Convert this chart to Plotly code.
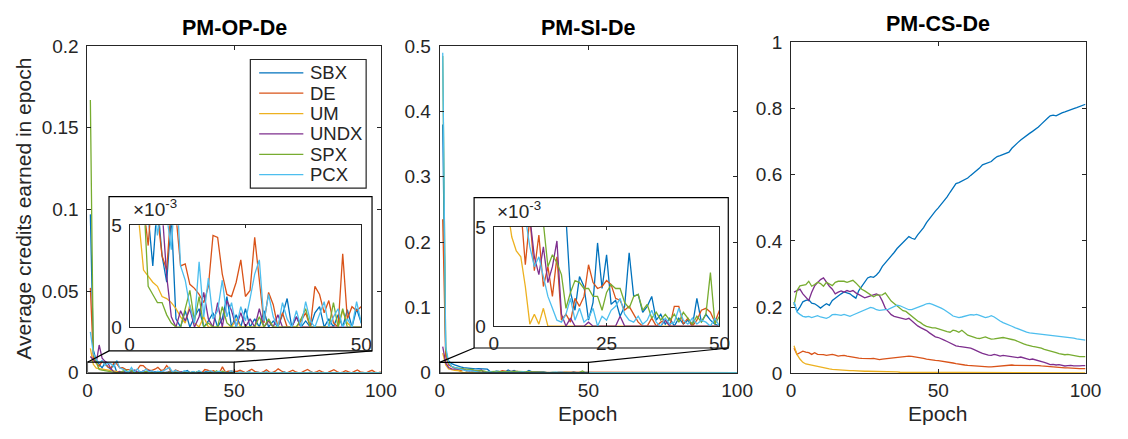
import plotly.graph_objects as go

W, H = 1128, 439

# ---------------- data ----------------
epochs = list(range(1, 101))
names = ["SBX", "DE", "UM", "UNDX", "SPX", "PCX"]
colors = ["#0072BD", "#D95319", "#EDB120", "#7E2F8E", "#77AC30", "#4DBEEE"]

# PM-OP-De : average credits, in units of 1e-3
op_sbx = [97, 14, 7.5, 5.5, 3.0, 6.2, 3.5, 2.2, 5.5, 0.4,
          0, 0.8, 0, 0.5, 0.9, 0, 0.3, 0.7, 0, 0.4,
          1.5, 0, 0.6, 0, 0.9, 0, 0.4, 0, 0.8, 0,
          0.3, 0, 0.6, 1.4, 0, 0.5, 0, 0.3, 0, 0.7,
          1.0, 0, 0.4, 0, 0.6, 0, 0.85, 0, 0.9, 0.2,
          0, 0.3, 0, 0, 0.5, 0, 0.2, 0, 0, 0.4,
          0, 0, 0.3, 0, 0, 0, 0.5, 0, 0, 0.2,
          0, 0, 0, 0.4, 0, 0, 0.3, 0, 0, 0,
          0.2, 0, 0, 0.4, 0, 0, 0, 0.3, 0, 0,
          0, 0.2, 0, 0, 0.3, 0, 0, 0, 0.2, 0]
op_de = [52, 9, 6, 4, 7, 5.5, 3.5, 2.8, 6, 5.5,
         3.0, 3.1, 2.1, 1.9, 1.6, 1.2, 2.0, 4.5, 4.4, 2.6,
         1.6, 1.5, 2.2, 3.3, 1.5, 1.8, 4.4, 2.3, 0.2, 1.7,
         1.1, 0, 0.7, 0, 0, 0, 0.3, 0.7, 0, 2.0,
         1.6, 0.7, 1.3, 0.2, 0, 3.6, 0.4, 1.0, 0.8, 1.0,
         0.8, 1.5, 0.5, 0, 1.2, 2.2, 0.9, 0.3, 0, 0.6,
         1.8, 0.4, 0, 1.0, 2.4, 1.2, 0.2, 0, 0.7, 1.6,
         0.5, 0, 0.3, 1.1, 2.0, 0.9, 0, 0.5, 1.4, 0.6,
         0, 0.2, 1.0, 1.9, 0.8, 0, 0.4, 1.3, 0.5, 0,
         0.9, 1.7, 0.6, 0.2, 0, 0.8, 1.5, 0.4, 0, 0.6]
op_um = [15, 5.2, 2.8, 2.5, 2.2, 2.0, 1.5, 1.4, 1.2, 0.9,
         0.5, 0.2, 1.1, 0.2, 0, 0.5, 0, 0, 0, 0,
         0, 0, 0.4, 0, 0, 0, 0, 0, 0, 0.3,
         0, 0, 0, 0, 0, 0, 0, 0, 0, 0,
         0, 0, 0, 0, 0, 0.8, 0.2, 0, 0, 0,
         0, 0, 0, 0, 0.3, 0, 0, 0, 0, 0,
         0, 0, 0, 0, 0, 0, 0, 0.2, 0, 0,
         0, 0, 0, 0, 0, 0, 0, 0, 0, 0,
         0, 0.3, 0, 0, 0, 0, 0, 0, 0, 0,
         0, 0, 0, 0, 0, 0, 0.2, 0, 0, 0]
op_undx = [10, 8, 6, 17, 9, 7, 5.8, 2.5, 0.5, 0,
           0.8, 0.3, 0.9, 0, 0.5, 1.7, 0.4, 0, 1.2, 0,
           1.3, 0.8, 0, 0.7, 0, 0.4, 0, 0.9, 0, 0.3,
           0, 0.6, 0, 0, 0, 0.5, 0, 0, 0, 0,
           0, 0, 0, 0, 0, 0, 0, 0, 0, 0,
           0, 0, 0.3, 0, 0, 0, 0, 0, 0, 0,
           0, 0, 0, 0, 0, 0.2, 0, 0, 0, 0,
           0, 0, 0, 0, 0, 0, 0, 0, 0.3, 0,
           0, 0, 0, 0, 0, 0, 0, 0, 0, 0,
           0, 0, 0, 0, 0.2, 0, 0, 0, 0, 0]
op_spx = [167, 12, 6.5, 2.0, 1.6, 1.2, 1.2, 0.6, 0.2, 0,
          0, 0.9, 1.8, 0.3, 1.5, 0, 0.2, 0, 0, 1.0,
          0.2, 0, 0, 0, 0, 0, 0, 0.5, 0, 0.4,
          0, 0, 0, 0, 0, 0, 0.4, 0.9, 0, 0,
          0, 0, 0, 1.2, 0, 0.9, 0, 0, 0, 0,
          0, 0, 0, 0.2, 0, 0, 0, 0, 0, 0,
          0, 0, 0, 0, 0, 0, 0, 0, 0.3, 0,
          0, 0, 0, 0, 0, 0, 0, 0, 0, 0,
          0, 0, 0, 0, 0, 0.2, 0, 0, 0, 0,
          0, 0, 0, 0, 0, 0, 0, 0, 0, 0]
op_pcx = [25, 12, 8, 6, 7.5, 4.5, 6.0, 5.5, 3.8, 7.5,
          3.0, 2.3, 1.0, 0.2, 3.2, 0.5, 2.4, 0.4, 0.8, 2.3,
          0.5, 1.2, 0, 1.0, 0.3, 1.4, 2.6, 3.3, 0.3, 1.6,
          0.5, 0, 1.2, 0.4, 0, 0.8, 0, 1.25, 0.3, 0,
          0.6, 1.25, 0, 0.5, 0.9, 0, 0.4, 0, 1.25, 0.2,
          0, 0.4, 0, 0, 0.6, 0, 0, 0.3, 0, 0,
          0.5, 0, 0, 0, 0.3, 0, 0, 0, 0.4, 0,
          0, 0, 0.3, 0, 0, 0.5, 0, 0, 0, 0.2,
          0, 0, 0.4, 0, 0, 0, 0.3, 0, 0, 0,
          0.2, 0, 0, 0.3, 0, 0, 0, 0.2, 0, 0]

# PM-SI-De : average credits, in units of 1e-3
si_sbx = [380, 30, 18, 14, 12, 10, 9, 8, 7.5, 6.5,
          7, 6, 6.5, 5.8, 6.2, 5.5, 1.7, 0.8, 2.5, 2.0,
          0.3, 1.2, 4.2, 1.9, 3.6, 1.1, 1.3, 0.5, 1.0, 3.7,
          1.5, 1.6, 0.7, 1.0, 1.5, 0.3, 0.6, 0.1, 0.4, 0,
          0.4, 0.1, 0.3, 0, 1.4, 0.2, 0.6, 0.3, 0.1, 0,
          0.2, 0, 0, 0.3, 0, 0, 0, 0.2, 0, 0,
          0, 0.3, 0, 0, 0, 0, 0.2, 0, 0, 0,
          0, 0, 0.3, 0, 0, 0, 0, 0, 0.2, 0,
          0, 0, 0, 0, 0.3, 0, 0, 0, 0, 0,
          0.2, 0, 0, 0, 0, 0, 0.3, 0, 0, 0]
si_de = [235, 25, 12, 9, 7, 6, 3.1, 5.5, 2.8, 4.6,
         2.0, 3.0, 1.5, 3.5, 0.3, 0.6, 0.2, 1.4, 1.0, 1.5,
         3.1, 2.2, 1.9, 2.0, 2.3, 2.1, 1.4, 1.3, 0.8, 1.0,
         0.6, 0.2, 0, 0, 0.4, 0, 0.2, 0.3, 0, 1.0,
         1.0, 0.1, 0.4, 0, 0.3, 0.8, 0.9, 0.7, 0.2, 0.8,
         0.3, 0, 0, 0.2, 0, 0.4, 0, 0, 0.2, 0,
         0, 0.3, 0, 0, 0, 0.2, 0, 0, 0.4, 0,
         0, 0, 0.2, 0, 0, 0.3, 0, 0, 0, 0.2,
         0, 0, 0.3, 0, 0, 0, 0.2, 0, 0, 0.3,
         0, 0, 0, 0.2, 0, 0, 0, 0.3, 0, 0]
si_um = [30, 12, 6, 4.5, 3.8, 3.5, 2.0, 0.1, 0.6, 0.1,
         0.9, 0, 0, 0, 0, 0, 0, 0, 0, 0,
         0, 0, 0, 0, 0, 0, 0, 0, 0, 0,
         0, 0, 0, 0, 0, 0, 0, 0, 0, 0,
         0, 0, 0, 0, 0, 0, 0, 0, 0, 0,
         0, 0, 0, 0, 0, 0, 0, 0, 0, 0,
         0, 0, 0, 0, 0, 0, 0, 0, 0, 0,
         0, 0, 0, 0, 0, 0, 0, 0, 0, 0,
         0, 0, 0, 0, 0, 0, 0, 0, 0, 0,
         0, 0, 0, 0, 0, 0, 0, 0, 0, 0]
si_undx = [40, 15, 8, 6, 5.5, 5.2, 6, 5.5, 3.5, 2.6,
           4.0, 2.2, 3.0, 4.3, 0.6, 0, 0.4, 0, 0, 0,
           0.2, 0, 0, 0, 0, 0, 0, 0.5, 0, 0,
           0, 0, 0, 0, 0, 0, 0, 0.3, 0, 0,
           0, 0, 0, 0, 0, 0, 0, 0, 0, 0,
           0, 0, 0, 0, 0, 0, 0, 0, 0, 0,
           0, 0, 0, 0, 0, 0, 0, 0, 0, 0,
           0, 0, 0, 0, 0, 0, 0, 0, 0, 0,
           0, 0, 0, 0, 0, 0, 0, 0, 0, 0,
           0, 0, 0, 0, 0, 0, 0, 0, 0, 0]
si_spx = [485, 35, 15, 10, 8, 7, 6.5, 6, 5.5, 5.8,
          5.2, 3.0, 3.6, 3.2, 2.6, 0.9, 1.7, 2.3, 2.2, 1.9,
          1.9, 1.5, 1.5, 0.8, 1.7, 2.1, 1.9, 1.9, 1.2, 0.9,
          1.5, 1.6, 0.8, 1.1, 0.4, 0.7, 0.3, 0.6, 0.3, 0.6,
          0.2, 0.7, 0.4, 0.1, 0.5, 0.2, 0.6, 2.7, 0.1, 0.5,
          0, 0.2, 0, 0, 0.3, 0, 0, 0, 0.2, 0,
          0, 0, 0.3, 0, 0, 0, 0, 0.2, 0, 0,
          0.3, 0, 0, 0, 0, 0, 0.2, 0, 0, 0,
          0, 0.3, 0, 0, 0, 0, 0, 0, 0.2, 0,
          0, 0, 0, 0.3, 0, 0, 0, 0, 0, 0.2]
si_pcx = [490, 40, 16, 10, 8, 6.5, 5.5, 4.0, 3.0, 3.5,
          2.5, 1.5, 0.9, 0.3, 0.2, 0.6, 1.4, 0.3, 0.9, 0.2,
          0.4, 0.9, 0, 0.5, 0.3, 0.8, 1.0, 1.4, 0.6, 0.3,
          0.2, 0.5, 0.1, 0.3, 0.8, 0.2, 0, 0.4, 0.1, 0.2,
          0.9, 0.3, 0.1, 0.4, 0.1, 0.3, 0.2, 0, 0.4, 0,
          0, 0.2, 0, 0, 0, 0.3, 0, 0, 0, 0,
          0.2, 0, 0, 0, 0.3, 0, 0, 0, 0, 0.2,
          0, 0, 0, 0, 0.3, 0, 0, 0, 0, 0,
          0.2, 0, 0, 0, 0, 0.3, 0, 0, 0, 0,
          0, 0.2, 0, 0, 0, 0, 0, 0.3, 0, 0]

# PM-CS-De : average credits
cs_sbx = [.215, .187, .200, .216, .220, .222, .212, .210, .204, .197,
          .204, .210, .205, .220, .227, .235, .240, .246, .244, .240,
          .233, .227, .250, .262, .275, .288, .292, .290, .297, .307,
          .323, .333, .343, .355, .365, .377, .386, .393, .405, .413,
          .408, .405, .418, .428, .440, .455, .467, .480, .490, .500,
          .510, .523, .533, .547, .560, .573, .576, .580, .585, .590,
          .598, .605, .614, .620, .630, .633, .637, .640, .648, .655,
          .658, .662, .665, .668, .680, .690, .697, .705, .712, .720,
          .725, .731, .737, .744, .753, .763, .770, .778, .780, .778,
          .783, .787, .790, .794, .797, .800, .803, .806, .810, .813]
cs_de = [.076, .057, .062, .067, .064, .062, .057, .062, .057, .057,
         .056, .054, .055, .057, .055, .052, .053, .054, .052, .050,
         .049, .048, .046, .045, .044, .043, .044, .045, .042, .041,
         .043, .044, .045, .046, .048, .049, .051, .052, .053, .052,
         .051, .050, .049, .047, .045, .043, .041, .040, .039, .038,
         .037, .036, .034, .033, .031, .029, .027, .026, .025, .024,
         .023, .022, .023, .022, .021, .020, .019, .019, .020, .021,
         .022, .023, .024, .025, .025, .024, .024, .023, .024, .025,
         .025, .024, .024, .023, .022, .021, .020, .019, .019, .018,
         .018, .017, .016, .016, .015, .015, .014, .014, .014, .014]
cs_um = [.083, .057, .043, .033, .028, .026, .024, .022, .019, .017,
         .015, .014, .013, .012, .011, .010, .009, .009, .008, .008,
         .008, .007, .007, .007, .006, .006, .006, .005, .005, .004,
         .004, .004, .004, .004, .004, .004, .003, .003, .003, .003,
         .003, .003, .003, .003, .003, .003, .003, .003, .003, .003,
         .003, .002, .002, .002, .002, .002, .002, .002, .002, .002,
         .002, .002, .002, .002, .001, .001, .001, .001, .001, .001,
         .001, .001, .001, .001, .001, .001, .001, .001, .001, .001,
         .001, .001, .001, .001, .001, .001, .001, .001, .001, .001,
         .001, .001, .001, .001, .001, .001, .001, .001, .001, .001]
cs_undx = [.245, .250, .254, .240, .230, .220, .245, .264, .274, .283,
           .288, .275, .263, .254, .240, .245, .249, .245, .250, .247,
           .250, .243, .238, .233, .228, .231, .235, .237, .240, .235,
           .218, .197, .187, .177, .172, .170, .168, .166, .163, .166,
           .158, .150, .143, .138, .134, .129, .122, .115, .110, .108,
           .103, .100, .096, .091, .086, .083, .081, .080, .079, .078,
           .076, .072, .067, .064, .060, .057, .055, .054, .057, .055,
           .052, .054, .053, .052, .050, .049, .047, .049, .046, .044,
           .041, .043, .041, .039, .036, .033, .030, .026, .027, .025,
           .026, .024, .022, .023, .024, .022, .021, .022, .023, .023]
cs_spx = [.206, .250, .264, .265, .268, .278, .263, .268, .275, .271,
          .263, .275, .271, .265, .275, .278, .278, .278, .275, .278,
          .281, .273, .263, .254, .249, .243, .236, .231, .236, .237,
          .237, .243, .231, .218, .211, .204, .196, .189, .187, .179,
          .172, .166, .158, .153, .146, .142, .139, .137, .137, .134,
          .130, .127, .126, .124, .130, .128, .124, .130, .122, .115,
          .112, .108, .106, .105, .108, .110, .106, .103, .104, .105,
          .107, .108, .106, .105, .102, .100, .096, .091, .089, .086,
          .083, .081, .080, .079, .076, .072, .070, .067, .064, .062,
          .059, .057, .056, .057, .055, .054, .052, .050, .050, .050]
cs_pcx = [.215, .185, .178, .172, .170, .172, .168, .170, .174, .170,
          .168, .166, .170, .177, .178, .176, .175, .178, .174, .172,
          .176, .180, .185, .187, .192, .197, .199, .197, .192, .190,
          .190, .192, .193, .198, .201, .206, .204, .200, .196, .192,
          .192, .195, .198, .202, .206, .210, .211, .208, .205, .200,
          .197, .192, .187, .180, .173, .170, .168, .170, .172, .175,
          .177, .176, .178, .175, .172, .168, .170, .174, .170, .163,
          .158, .153, .150, .147, .142, .138, .134, .130, .127, .124,
          .122, .121, .120, .119, .118, .117, .116, .115, .115, .114,
          .113, .112, .111, .110, .108, .106, .104, .102, .100, .100]

op_series = [op_sbx, op_de, op_um, op_undx, op_spx, op_pcx]
si_series = [si_sbx, si_de, si_um, si_undx, si_spx, si_pcx]
cs_series = [cs_sbx, cs_de, cs_um, cs_undx, cs_spx, cs_pcx]

titles = ["PM-OP-De", "PM-SI-De", "PM-CS-De"]
ylabel = "Average credits earned in epoch"
xlabel = "Epoch"
zoom_top = [0.0065, 0.016]   # top of the zoomed region in the main panels

# ---------------- layout geometry (pixels) ----------------
FONT = "Liberation Sans, Arial, Helvetica, sans-serif"
TXT = "#262626"
panels = [dict(l=84, r=383, t=38, b=381, ymax=0.2, dt=0.05),
          dict(l=443, r=746, t=38, b=381, ymax=0.5, dt=0.1),
          dict(l=801, r=1101, t=34, b=381.5, ymax=1.0, dt=0.2)]
insets = [dict(l=127, r=363, t=226, b=333), dict(l=498, r=728, t=228, b=332)]
outer = [dict(l=106, r=374, t=196, b=358), dict(l=478, r=737, t=197, b=355)]


def fx(p):
    return p / W


def fy(p):
    return 1 - p / H


axis_common = dict(showline=True, linecolor=TXT, linewidth=1, mirror="ticks",
                   ticks="inside", ticklen=4, tickcolor=TXT, tickwidth=1,
                   showgrid=False, zeroline=False,
                   tickfont=dict(family=FONT, size=19, color=TXT))

fig = go.Figure()
lw = 1.3

# main panels
for i, (series, scale) in enumerate(zip([op_series, si_series, cs_series], [1000, 1000, 1])):
    xa = "x" if i == 0 else f"x{i+1}"
    ya = "y" if i == 0 else f"y{i+1}"
    for name, col, vals in zip(names, colors, series):
        fig.add_trace(go.Scatter(x=epochs, y=[v / scale for v in vals], mode="lines",
                                 name=name, line=dict(color=col, width=lw),
                                 xaxis=xa, yaxis=ya, showlegend=False))
# insets (values shown in units of 1e-3)
for j, series in enumerate([op_series, si_series]):
    xa, ya = f"x{4+j}", f"y{4+j}"
    for name, col, vals in zip(names, colors, series):
        fig.add_trace(go.Scatter(x=epochs, y=vals, mode="lines", name=name,
                                 line=dict(color=col, width=lw),
                                 xaxis=xa, yaxis=ya, showlegend=False))

layout = dict(width=W, height=H, margin=dict(l=0, r=0, t=0, b=0, pad=0),
              paper_bgcolor="white", plot_bgcolor="white", showlegend=False)
for i, p in enumerate(panels):
    k = "" if i == 0 else str(i + 1)
    layout["xaxis" + k] = dict(axis_common, domain=[fx(p["l"]), fx(p["r"])], range=[0, 100],
                               tickvals=[0, 50, 100], anchor="y" + k)
    layout["yaxis" + k] = dict(axis_common, domain=[fy(p["b"]), fy(p["t"])], range=[0, p["ymax"]],
                               dtick=p["dt"], tick0=0, anchor="x" + k, ticklabelstandoff=4)
for j, p in enumerate(insets):
    k = str(4 + j)
    layout["xaxis" + k] = dict(axis_common, domain=[fx(p["l"]), fx(p["r"])], range=[0, 50],
                               tickvals=[0, 25, 50], anchor="y" + k, ticklen=3)
    layout["yaxis" + k] = dict(axis_common, domain=[fy(p["b"]), fy(p["t"])], range=[0, 5],
                               tickvals=[0, 5], anchor="x" + k, ticklen=3, ticklabelstandoff=3)
fig.update_layout(**layout)

shapes = []
annotations = []
for j in range(2):
    p, o, k = panels[j], outer[j], ("" if j == 0 else "2")
    # zoomed region in data coordinates of the main panel
    shapes.append(dict(type="rect", xref="x" + k, yref="y" + k, x0=0, x1=50, y0=0, y1=zoom_top[j],
                       line=dict(color="black", width=1.2)))
    # pixel position of the zoom rectangle's top corners
    top_px = p["b"] - zoom_top[j] / p["ymax"] * (p["b"] - p["t"])
    right_px = p["l"] + 50 / 100 * (p["r"] - p["l"])
    shapes.append(dict(type="rect", xref="paper", yref="paper", x0=fx(o["l"]), x1=fx(o["r"]),
                       y0=fy(o["b"]), y1=fy(o["t"]), line=dict(color="black", width=1.2),
                       fillcolor="white", layer="below"))
    shapes.append(dict(type="line", xref="paper", yref="paper", x0=fx(p["l"]), y0=fy(top_px),
                       x1=fx(o["l"]), y1=fy(o["b"]), line=dict(color="black", width=1.2)))
    shapes.append(dict(type="line", xref="paper", yref="paper", x0=fx(right_px), y0=fy(top_px),
                       x1=fx(o["r"]), y1=fy(o["b"]), line=dict(color="black", width=1.2)))
    ip = insets[j]
    annotations.append(dict(text="×10<sup>-3</sup>", xref="paper", yref="paper",
                            x=fx(ip["l"] + 1), y=fy(ip["t"] - 3), xanchor="left", yanchor="bottom",
                            showarrow=False, font=dict(family=FONT, size=19, color=TXT)))

# titles and axis labels
for i, p in enumerate(panels):
    cx = (p["l"] + p["r"]) / 2
    annotations.append(dict(text=f"<b>{titles[i]}</b>", xref="paper", yref="paper",
                            x=fx(cx), y=fy(p["t"] - 19), xanchor="center", yanchor="middle",
                            showarrow=False, font=dict(family=FONT, size=21.5, color="black")))
    annotations.append(dict(text=xlabel, xref="paper", yref="paper", x=fx(cx), y=fy(424),
                            xanchor="center", yanchor="middle", showarrow=False,
                            font=dict(family=FONT, size=21, color=TXT)))
annotations.append(dict(text=ylabel, xref="paper", yref="paper", x=fx(18), y=fy(209),
                        textangle=-90, xanchor="center", yanchor="middle", showarrow=False,
                        font=dict(family=FONT, size=21, color=TXT)))

# legend (box, line samples, labels)
leg = dict(l=250, r=368, t=52, b=187, y0=66, dy=21.4, lx0=259, lx1=304, tx=309)
shapes.append(dict(type="rect", xref="paper", yref="paper", x0=fx(leg["l"]), x1=fx(leg["r"]),
                   y0=fy(leg["b"]), y1=fy(leg["t"]), line=dict(color=TXT, width=1.2),
                   fillcolor="white"))
for n, (name, col) in enumerate(zip(names, colors)):
    yy = leg["y0"] + n * leg["dy"]
    shapes.append(dict(type="line", xref="paper", yref="paper", x0=fx(leg["lx0"]), x1=fx(leg["lx1"]),
                       y0=fy(yy), y1=fy(yy), line=dict(color=col, width=lw)))
    annotations.append(dict(text=name, xref="paper", yref="paper", x=fx(leg["tx"]), y=fy(yy),
                            xanchor="left", yanchor="middle", showarrow=False,
                            font=dict(family=FONT, size=18.5, color=TXT)))

fig.update_layout(shapes=shapes, annotations=annotations)
fig.write_html("out.html")
